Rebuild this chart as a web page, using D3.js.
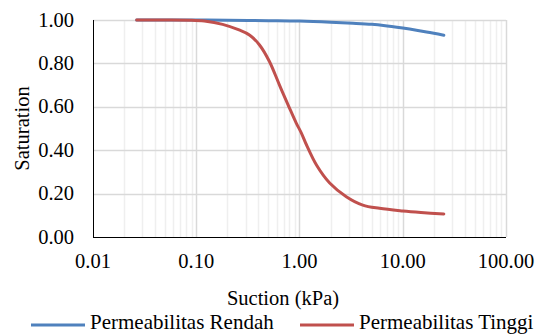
<!DOCTYPE html>
<html>
<head>
<meta charset="utf-8">
<script src="https://cdn.jsdelivr.net/npm/d3@7"></script>
<style>
body { margin: 0; background: #fff; }
</style>
</head>
<body>
<div class="chart"></div>
<script>
// suction (kPa) vs saturation
var suctionRendah = [0.0265, 0.05, 0.1, 0.2, 0.5, 1.0, 2.0, 3.3, 5.0, 6.5, 10, 14, 17, 20, 25];
var satRendah     = [1.0, 1.0, 1.0, 0.999, 0.997, 0.995, 0.99, 0.985, 0.98, 0.975, 0.963, 0.952, 0.945, 0.939, 0.93];

var suctionTinggi = [0.0265, 0.05, 0.086, 0.12, 0.18, 0.26, 0.33, 0.41, 0.51, 0.64, 0.80, 0.93, 1.04, 1.17, 1.46, 1.96, 2.84, 4.1, 5.95, 10, 15, 25];
var satTinggi     = [1.0, 1.0, 0.999, 0.995, 0.98, 0.954, 0.93, 0.885, 0.81, 0.70, 0.594, 0.525, 0.48, 0.424, 0.332, 0.249, 0.186, 0.147, 0.132, 0.12, 0.113, 0.106];

var xTicks = [0.01, 0.1, 1, 10, 100];
var yTicks = [0, 0.2, 0.4, 0.6, 0.8, 1.0];

var w = 543, h = 336;
var padL = 93, padR = 506, padT = 20, padB = 237;

var svg = d3.select(".chart").append("svg")
    .attr("width", w)
    .attr("height", h)
    .attr("font-family", "'Liberation Serif', 'Times New Roman', serif");

var xScale = d3.scaleLog().domain([0.01, 100]).range([padL, padR]);
var yScale = d3.scaleLinear().domain([0, 1]).range([padB, padT]);

// minor gridlines
var minor = [];
for (var d = 0.01; d < 99; d *= 10) {
    for (var k = 2; k <= 9; k++) minor.push(d * k);
}
svg.selectAll(".minor")
    .data(minor)
    .enter()
    .append("line")
    .attr("class", "minor")
    .attr("x1", d => Math.round(xScale(d)) + 0.5)
    .attr("x2", d => Math.round(xScale(d)) + 0.5)
    .attr("y1", padT)
    .attr("y2", padB)
    .attr("stroke", "#efefef")
    .attr("stroke-width", 1.5);

// major gridlines
svg.selectAll(".xmajor")
    .data(xTicks.slice(1))
    .enter()
    .append("line")
    .attr("class", "xmajor")
    .attr("x1", d => Math.round(xScale(d)) + 0.5)
    .attr("x2", d => Math.round(xScale(d)) + 0.5)
    .attr("y1", padT)
    .attr("y2", padB)
    .attr("stroke", "#d9d9d9")
    .attr("stroke-width", 1.5);

svg.selectAll(".ymajor")
    .data(yTicks.slice(1))
    .enter()
    .append("line")
    .attr("class", "ymajor")
    .attr("x1", padL)
    .attr("x2", padR)
    .attr("y1", d => Math.round(yScale(d)) + 0.5)
    .attr("y2", d => Math.round(yScale(d)) + 0.5)
    .attr("stroke", "#d9d9d9")
    .attr("stroke-width", 1.5);

// axes lines
svg.append("line")
    .attr("x1", padL + 0.5).attr("x2", padL + 0.5)
    .attr("y1", padT).attr("y2", padB)
    .attr("stroke", "#000");
svg.append("line")
    .attr("x1", padL).attr("x2", padR)
    .attr("y1", padB + 0.5).attr("y2", padB + 0.5)
    .attr("stroke", "#000");

// tick labels
svg.selectAll(".ylab")
    .data(yTicks)
    .enter()
    .append("text")
    .attr("class", "ylab")
    .attr("x", 74)
    .attr("y", d => yScale(d) + 6.5)
    .attr("text-anchor", "end")
    .attr("font-size", 20.5)
    .text(d => d.toFixed(2));

svg.selectAll(".xlab")
    .data(xTicks)
    .enter()
    .append("text")
    .attr("class", "xlab")
    .attr("x", d => xScale(d))
    .attr("y", 268)
    .attr("text-anchor", "middle")
    .attr("font-size", 20.5)
    .text(d => d.toFixed(2));

// axis titles
svg.append("text")
    .attr("transform", "translate(29," + ((padT + padB) / 2) + ") rotate(-90)")
    .attr("text-anchor", "middle")
    .attr("font-size", 20.5)
    .text("Saturation");

svg.append("text")
    .attr("x", 283)
    .attr("y", 305)
    .attr("text-anchor", "middle")
    .attr("font-size", 20.5)
    .text("Suction (kPa)");

// curves
var line = d3.line()
    .x(d => xScale(d[0]))
    .y(d => yScale(d[1]))
    .curve(d3.curveCatmullRom.alpha(0.5));

var series = [
    { name: "Permeabilitas Rendah", color: "#4f81bd", x: suctionRendah, y: satRendah },
    { name: "Permeabilitas Tinggi", color: "#c0504d", x: suctionTinggi, y: satTinggi }
];

series.forEach(function(s) {
    svg.append("path")
        .datum(s.x.map((v, i) => [v, s.y[i]]))
        .attr("d", line)
        .attr("fill", "none")
        .attr("stroke", s.color)
        .attr("stroke-width", 3)
        .attr("stroke-linecap", "round");
});

// legend
var legX = [31, 300];
series.forEach(function(s, i) {
    svg.append("line")
        .attr("x1", legX[i]).attr("x2", legX[i] + 54)
        .attr("y1", 325).attr("y2", 325)
        .attr("stroke", s.color)
        .attr("stroke-width", 3);
    svg.append("text")
        .attr("x", legX[i] + 59)
        .attr("y", 329)
        .attr("font-size", 21)
        .text(s.name);
});
</script>
</body>
</html>
